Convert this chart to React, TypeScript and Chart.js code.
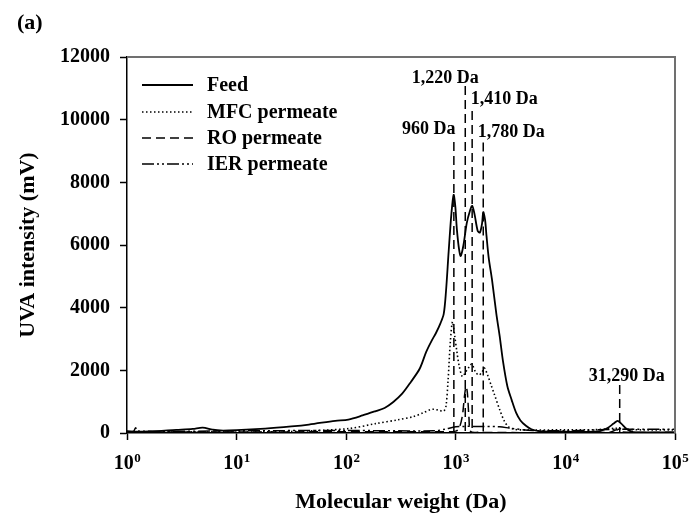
import React, { useEffect, useRef } from "react";
import { Chart, registerables } from "chart.js";

Chart.register(...registerables);

// ---------- data ----------
const feedMW = [1, 1.585, 2.818, 3.98, 4.9, 6.03, 7.08, 10, 18.2, 31.6, 45.7, 79.4, 104.7, 141, 186, 224, 269, 324, 389, 468, 537, 603, 661, 724, 776, 813, 861, 912, 955, 989, 1023, 1072, 1109, 1175, 1259, 1349, 1410, 1479, 1585, 1660, 1738, 1780, 1850, 1905, 1995, 2138, 2344, 2512, 2692, 2951, 3236, 3548, 3890, 4365, 4898, 5754, 10000, 19953, 23988, 27542, 29923, 32359, 36308, 41687, 63096, 100000];
const feedUV = [40, 50, 100, 130, 170, 110, 80, 90, 140, 210, 270, 390, 430, 560, 700, 800, 990, 1255, 1630, 2050, 2590, 2950, 3200, 3500, 3800, 4500, 5800, 7000, 7600, 7250, 6500, 5850, 5650, 6000, 6700, 7100, 7250, 7000, 6450, 6400, 6700, 7050, 6800, 6300, 5600, 4900, 3800, 3100, 2300, 1500, 1050, 650, 400, 230, 120, 60, 40, 50, 150, 300, 390, 300, 130, 30, 20, 20];

const mfcMW = [1, 3.16, 10, 31.6, 104.7, 186, 295, 407, 501, 582, 631, 708, 776, 813, 851, 891, 933, 977, 1023, 1072, 1148, 1230, 1318, 1400, 1514, 1622, 1738, 1820, 1950, 2089, 2239, 2512, 2754, 3020, 3388, 3981, 10000, 19953, 28184, 35481, 50119, 100000];
const mfcUV = [20, 30, 30, 50, 140, 300, 420, 520, 640, 740, 760, 720, 700, 850, 1700, 2900, 3550, 3100, 2600, 2150, 1800, 1950, 2100, 2200, 1950, 1850, 1950, 2080, 1850, 1550, 1250, 750, 400, 200, 120, 100, 100, 110, 150, 120, 100, 100];

const roMW = [1, 10, 100, 794, 1000, 1072, 1148, 1202, 1240, 1274, 1318, 1365, 1585, 25119, 29512, 33113, 100000];
const roUV = [30, 30, 40, 40, 60, 150, 550, 1200, 1480, 1300, 500, 50, 20, 20, 100, 30, 20];

const ierMW = [1, 1.15, 1.2, 1.26, 10, 100, 631, 794, 1000, 1585, 2512, 3162, 5012, 10000, 19953, 31623, 100000];
const ierUV = [60, 60, 170, 60, 70, 80, 70, 120, 200, 210, 200, 150, 80, 70, 100, 120, 120];

const seriesNames = ["Feed", "MFC permeate", "RO permeate", "IER permeate"];

const xTickValues = [1, 10, 100, 1000, 10000, 100000];
const xTickBase = "10";
const xTickExponents = ["0", "1", "2", "3", "4", "5"];

// peak markers
const peakMW = [960, 1220, 1410, 1780, 31290];
const peakLabels = ["960 Da", "1,220 Da", "1,410 Da", "1,780 Da", "31,290 Da"];
const peakLineTop = [9290, 11075, 10280, 9270, 1530];
const peakLabelY = [9680, 11330, 10650, 9580, 1810];

// ---------- styles ----------
const FONT = "'Liberation Serif', 'Times New Roman', serif";
const dashes: number[][] = [[], [1.5, 2.5], [9, 5], [12, 3, 2, 3, 2, 3]];
const widths = [1.8, 1.6, 1.5, 1.5];
const peakLabelDx = [-25, -20, 32, 28, 7];

const pts = (xs: number[], ys: number[]) => xs.map((x, i) => ({ x, y: ys[i] }));

const framePlugin = {
  id: "frame",
  afterDraw(chart: any) {
    const { ctx, chartArea: a } = chart;
    ctx.save();
    ctx.strokeStyle = "#707070";
    ctx.lineWidth = 2;
    ctx.beginPath();
    ctx.moveTo(a.left, a.top);
    ctx.lineTo(a.right, a.top);
    ctx.lineTo(a.right, a.bottom);
    ctx.stroke();
    // panel label
    ctx.fillStyle = "#000";
    ctx.font = `bold 22px ${FONT}`;
    ctx.textAlign = "left";
    ctx.textBaseline = "middle";
    ctx.fillText("(a)", 17, 23);
    ctx.restore();
  },
};

// x tick labels with superscript exponents, placed at the scale's own tick pixels
const xLabelPlugin = {
  id: "xPowLabels",
  afterDraw(chart: any) {
    const { ctx, scales } = chart;
    const xs = scales.x;
    ctx.save();
    ctx.fillStyle = "#000";
    ctx.textBaseline = "alphabetic";
    ctx.textAlign = "left";
    const baseY = xs.top + 36;
    xs.ticks.forEach((t: any) => {
      const i = xTickValues.indexOf(t.value);
      if (i < 0) return;
      const px = xs.getPixelForValue(t.value);
      ctx.font = `bold 20px ${FONT}`;
      const w1 = ctx.measureText(xTickBase).width;
      ctx.font = `bold 13px ${FONT}`;
      const w2 = ctx.measureText(xTickExponents[i]).width;
      const start = px - (w1 + w2) / 2;
      ctx.font = `bold 20px ${FONT}`;
      ctx.fillText(xTickBase, start, baseY);
      ctx.font = `bold 13px ${FONT}`;
      ctx.fillText(xTickExponents[i], start + w1 + 0.5, baseY - 7);
    });
    ctx.restore();
  },
};

const legendPlugin = {
  id: "innerLegend",
  afterDraw(chart: any) {
    const { ctx } = chart;
    const rows = [85, 112, 138, 164];
    ctx.save();
    chart.data.datasets.forEach((ds: any, i: number) => {
      const y = rows[i];
      ctx.strokeStyle = "#000";
      ctx.lineWidth = ds.borderWidth;
      ctx.setLineDash(ds.borderDash || []);
      ctx.beginPath();
      ctx.moveTo(142, y);
      ctx.lineTo(193, y);
      ctx.stroke();
      ctx.setLineDash([]);
      ctx.fillStyle = "#000";
      ctx.font = `bold 20px ${FONT}`;
      ctx.textAlign = "left";
      ctx.textBaseline = "middle";
      ctx.fillText(ds.label, 207, y + 1);
    });
    ctx.restore();
  },
};

const peakPlugin = {
  id: "peaks",
  afterDatasetsDraw(chart: any) {
    const { ctx, scales } = chart;
    const xs = scales.x;
    const ys = scales.y;
    ctx.save();
    peakMW.forEach((mw, i) => {
      const px = xs.getPixelForValue(mw);
      ctx.strokeStyle = "#000";
      ctx.lineWidth = 1.5;
      ctx.setLineDash([9, 5]);
      ctx.beginPath();
      ctx.moveTo(px, ys.getPixelForValue(peakLineTop[i]));
      ctx.lineTo(px, ys.getPixelForValue(0));
      ctx.stroke();
      ctx.setLineDash([]);
      ctx.fillStyle = "#000";
      ctx.font = `bold 18px ${FONT}`;
      ctx.textAlign = "center";
      ctx.textBaseline = "middle";
      ctx.fillText(peakLabels[i], px + peakLabelDx[i], ys.getPixelForValue(peakLabelY[i]));
    });
    ctx.restore();
  },
};

export default function App() {
  const ref = useRef<HTMLCanvasElement | null>(null);

  useEffect(() => {
    if (!ref.current) return;
    const allData = [pts(feedMW, feedUV), pts(mfcMW, mfcUV), pts(roMW, roUV), pts(ierMW, ierUV)];
    const chart = new Chart(ref.current, {
      type: "scatter",
      data: {
        datasets: allData.map((d, i) => ({
          label: seriesNames[i],
          data: d,
          showLine: true,
          borderColor: "#000",
          backgroundColor: "#000",
          borderWidth: widths[i],
          borderDash: dashes[i],
          pointRadius: 0,
          tension: 0.3,
        })),
      },
      options: {
        responsive: false,
        animation: false,
        layout: { padding: { left: 0, top: 57, right: 17, bottom: 0 } },
        plugins: { legend: { display: false }, tooltip: { enabled: false } },
        scales: {
          x: {
            type: "logarithmic",
            min: 1,
            max: 100000,
            afterBuildTicks: (s: any) => {
              s.ticks = xTickValues.map((v) => ({ value: v }));
            },
            afterFit: (s: any) => {
              s.height = 85;
            },
            ticks: { display: false, autoSkip: false, maxRotation: 0 },
            grid: { drawOnChartArea: false, drawTicks: true, tickLength: 7, color: "#000", tickWidth: 1.5 },
            border: { color: "#000", width: 1.5 },
            title: {
              display: true,
              text: "Molecular weight (Da)",
              color: "#000",
              font: { family: FONT, size: 22, weight: "bold" },
              padding: { top: 0, bottom: 2 },
            },
          },
          y: {
            min: 0,
            max: 12000,
            afterFit: (s: any) => {
              s.width = 127;
            },
            ticks: {
              stepSize: 2000,
              color: "#000",
              font: { family: FONT, size: 20, weight: "bold" },
              padding: 10,
              callback: (v: any) => String(v),
            },
            grid: { drawOnChartArea: false, drawTicks: true, tickLength: 7, color: "#000", tickWidth: 1.5 },
            border: { color: "#000", width: 1.5 },
            title: {
              display: true,
              text: "UVA intensity (mV)",
              color: "#000",
              font: { family: FONT, size: 22, weight: "bold" },
              padding: { top: 15, bottom: 0 },
            },
          },
        },
      },
      plugins: [framePlugin, xLabelPlugin, legendPlugin, peakPlugin],
    });
    return () => chart.destroy();
  }, []);

  return (
    <div style={{ position: "fixed", left: 0, top: 0, width: 692, height: 518, background: "#fff" }}>
      <canvas ref={ref} width={692} height={518} />
    </div>
  );
}
